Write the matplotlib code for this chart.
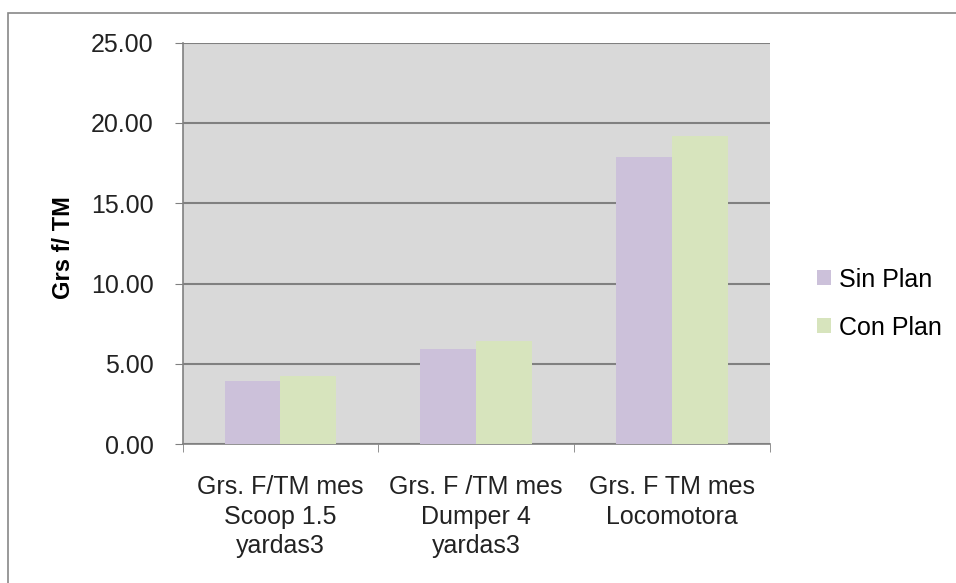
import matplotlib
matplotlib.use("Agg")
import matplotlib.pyplot as plt
from matplotlib.patches import Rectangle
import numpy as np

plt.rcParams['font.family'] = ['Liberation Sans', 'DejaVu Sans']

categorias = ["Grs. F/TM mes\nScoop 1.5\nyardas3",
              "Grs. F /TM mes\nDumper 4\nyardas3",
              "Grs. F TM mes\nLocomotora"]
sin_plan = [3.95, 5.93, 17.90]
con_plan = [4.25, 6.45, 19.20]
series = ["Sin Plan", "Con Plan"]
colores = ["#CCC1DA", "#D7E4BD"]

fs = 18
texto = "#222222"

fig = plt.figure(figsize=(9.56, 5.83), dpi=100)
ax = fig.add_axes([0.191, 0.238, 0.614, 0.689])
ax.set_facecolor("#D9D9D9")

x = np.arange(len(categorias))
w = 1 / 3.5
ax.bar(x - w / 2, sin_plan, w, color=colores[0], label=series[0], zorder=3)
ax.bar(x + w / 2, con_plan, w, color=colores[1], label=series[1], zorder=3)

ax.set_xlim(-0.5, len(categorias) - 0.5)
ax.set_ylim(0, 25)
ax.set_yticks(np.arange(0, 26, 5))
ax.set_yticklabels(["%.2f" % v for v in np.arange(0, 26, 5)], fontsize=fs, color=texto)
ax.yaxis.grid(True, color="#808080", linewidth=1.5, zorder=1)
ax.set_axisbelow(True)

# category labels centered, ticks on the category boundaries
ax.set_xticks(x)
ax.set_xticklabels(categorias, fontsize=fs, color=texto, linespacing=1.3)
ax.tick_params(axis="x", length=0, pad=22)
ax.set_xticks(np.arange(-0.5, len(categorias)), minor=True)
ax.tick_params(axis="x", which="minor", length=6, color="#808080")
ax.tick_params(axis="y", length=6, color="#808080", pad=15)

for s in ["top", "right"]:
    ax.spines[s].set_visible(False)
for s in ["left", "bottom"]:
    ax.spines[s].set_color("#808080")
    ax.spines[s].set_linewidth(1.2)

ax.set_ylabel("Grs f/ TM", fontsize=17, fontweight="bold")
ax.yaxis.set_label_coords(-0.183, 0.49)

ax.legend(loc="center left", bbox_to_anchor=(1.06, 0.35), frameon=False,
          fontsize=fs, handlelength=0.55, handleheight=0.55, handletextpad=0.3,
          labelspacing=0.95, borderpad=0)

# outer chart border
fig.patches.append(Rectangle((8 / 956, -0.1), 1.2, 1 - 13 / 583 + 0.1,
                             transform=fig.transFigure, fill=False,
                             edgecolor="#888888", linewidth=1.2))

fig.savefig("out.png", dpi=100)
